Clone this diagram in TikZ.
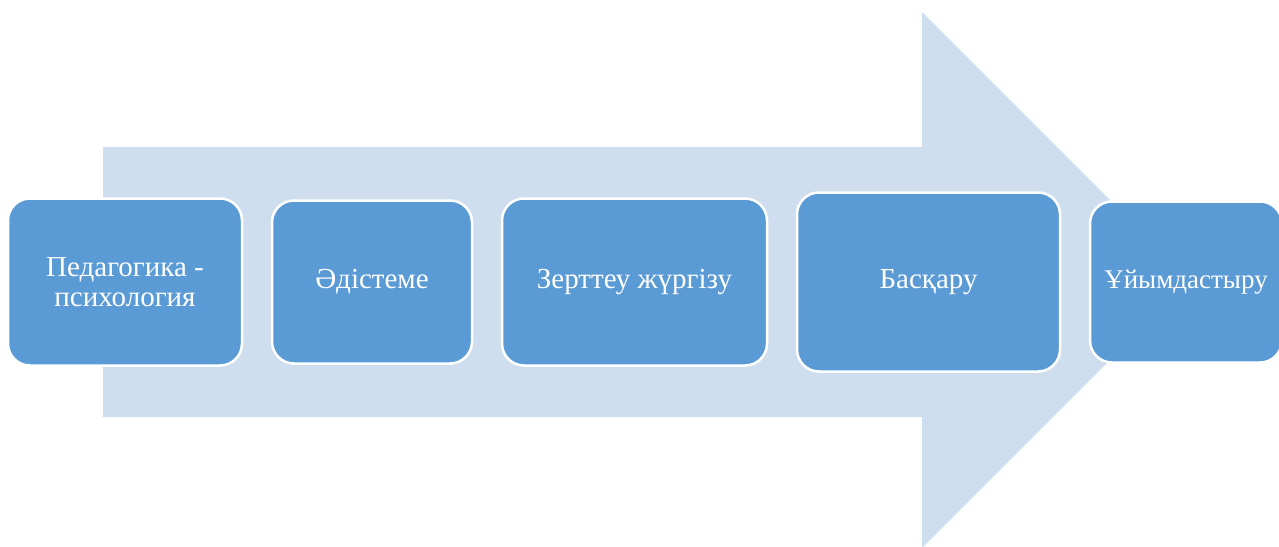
\documentclass[tikz,border=0pt]{standalone}
\usepackage{fontspec}
\setmainfont{Liberation Serif}
\definecolor{arrowblue}{HTML}{CFDEEE}
\definecolor{boxblue}{HTML}{5B9BD5}
\begin{document}
\begin{tikzpicture}[x=1pt,y=-1pt,
    stagebox/.style={draw=white, line width=2.5pt, fill=boxblue, rounded corners=22pt,
        text=white, align=center, inner sep=0pt, font=\fontsize{29}{30}\selectfont}]
    \useasboundingbox (0,0) rectangle (1279,546);

    % big arrow behind the boxes
    \fill[arrowblue] (103,147) -- (922,147) -- (922,12) -- (1190,280)
        -- (922,548) -- (922,417) -- (103,417) -- cycle;

    \node[stagebox, minimum width=234pt, minimum height=167pt] (ped) at (125,282) {Педагогика -\\психология};
    \node[stagebox, minimum width=200pt, minimum height=163pt] (adis) at (372,282) {Әдістеме};
    \node[stagebox, minimum width=265pt, minimum height=167pt] (zert) at (634.5,282) {Зерттеу жүргізу};
    \node[stagebox, minimum width=263pt, minimum height=179pt] (bas) at (928.5,282) {Басқару};
    \node[stagebox, minimum width=192pt, minimum height=161pt,
        font=\fontsize{27}{30}\selectfont] (uyim) at (1186,282) {Ұйымдастыру};

\end{tikzpicture}
\end{document}
